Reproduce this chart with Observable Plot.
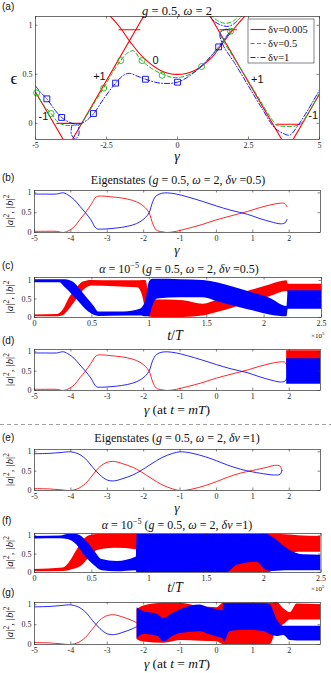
<!DOCTYPE html>
<html><head><meta charset="utf-8">
<script src="https://cdn.jsdelivr.net/npm/d3@7"></script>
<script src="https://cdn.jsdelivr.net/npm/@observablehq/plot@0.6"></script>
<style>
body{margin:0;background:#fff;}
#root{position:relative;width:331px;height:673px;overflow:hidden;background:#fff;}
text{white-space:pre;}
</style></head><body><div id="root"></div><script>
// ---------- (a) quasienergy spectrum ----------
const aXTicks = [-5, -2.5, 0, 2.5, 5];
const aYTicks = [0, 0.5, 1];
const redA1 = [[-5.0, 0.32], [-3.55, -0.4]];
const redA2 = [[-4.05, -0.34], [-0.8, 1.29]];
const redA3 = [[-2.45,1.12],[-2.0,0.97],[-1.69,0.84],[-1.2,0.67],[-0.6,0.54],[0,0.5],[0.6,0.54],[1.2,0.67],[1.62,0.83],[2.0,0.97],[2.45,1.12]];
const redA4 = [[0.8, 1.27], [4.1, -0.38]];
const redA5 = [[3.6, -0.4], [5.0, 0.3]];
const redA6 = [[-4.25, 0.0], [-3.42, 0.0]];
const redA7 = [[-2.06, 0.955], [-1.33, 0.955]];
const redA8 = [[1.49, 0.955], [2.08, 0.955]];
const redA9 = [[3.49, -0.01], [4.31, -0.01]];
const greenA = [[-5.0,0.31],[-4.7,0.18],[-4.45,0.1],[-4.2,0.01],[-3.95,-0.02],[-3.7,-0.02],[-3.42,-0.01],[-3.2,0.08],[-2.9,0.22],[-2.6,0.36],[-2.3,0.51],[-2.0,0.64],[-1.75,0.72],[-1.55,0.74],[-1.35,0.67],[-1.1,0.6],[-0.8,0.54],[-0.5,0.5],[-0.2,0.47],[0.1,0.47],[0.5,0.51],[0.85,0.58],[1.2,0.69],[1.5,0.79],[1.7,0.87],[1.87,0.94],[1.97,0.96],[1.7,0.955],[1.5,0.93],[1.62,0.84],[2.0,0.66],[2.5,0.43],[3.0,0.19],[3.3,0.05],[3.5,-0.02],[3.8,-0.03],[4.1,-0.03],[4.35,0.0],[4.6,0.1],[5.0,0.31]];
const greenArc = [[1.15,1.11],[1.4,1.05],[1.7,1.02],[2.0,1.05],[2.2,1.11]];
const blueA = [[-5.0,0.38],[-4.8,0.31],[-4.6,0.25],[-4.3,0.13],[-4.08,0.06],[-3.8,0.01],[-3.5,-0.01],[-3.2,0.03],[-2.95,0.1],[-2.6,0.25],[-2.18,0.41],[-1.9,0.49],[-1.7,0.51],[-1.4,0.48],[-1.13,0.45],[-0.6,0.41],[0,0.42],[0.5,0.5],[1.0,0.63],[1.45,0.78],[1.7,0.88],[1.85,0.94],[1.7,0.96],[1.5,0.92],[1.6,0.8],[2.0,0.62],[2.5,0.38],[3.0,0.14],[3.4,-0.04],[3.7,-0.1],[3.95,-0.12],[4.2,-0.04],[4.6,0.14],[5.0,0.34]];
const blueLoop = [[-3.72,-0.02],[-3.74,-0.11],[-3.6,-0.16],[-3.47,-0.11],[-3.5,-0.02]];
const blueArc = [[1.08,1.11],[1.3,1.04],[1.55,1.0],[1.8,0.99],[2.05,1.03],[2.3,1.11]];
const greenMarks = [[-4.96,0.31],[-4.45,0.1],[-2.6,0.36],[-2.0,0.64],[-1.25,0.64],[-0.54,0.49],[0.85,0.58],[1.87,0.94]];
const blueMarks = [[-4.6,0.25],[-4.08,0.06],[-2.96,0.1],[-2.18,0.41],[-1.13,0.45],[0.0,0.42],[1.45,0.78]];
const aLabels = [["0",-0.77,0.64],["+1",-2.75,0.48],["+1",2.81,0.45],["-1",-4.72,0.07],["-1",4.78,0.08]];
const legendNames = ["δv=0.005", "δv=0.5", "δv=1"];

// ---------- (b),(d) eigenstates dv=0.5 ----------
const gTicks = [-5, -4, -3, -2, -1, 0, 1, 2];
const pTicks = [0, 0.5, 1];
const tTicks = [0, 0.5, 1, 1.5, 2, 2.5];
const bGamma = [-5, -4.7, -4.4, -4.2, -4.05, -3.9, -3.75, -3.6, -3.45, -3.3, -3.15, -2.9, -2.6, -2.3, -2.1, -1.95, -1.85, -1.75, -1.65, -1.5, -1.35, -1.1, -0.8, -0.4, 0, 0.4, 0.85, 1.2, 1.5, 1.75, 1.88, 1.94];
const bBlue  = [0.97, 0.97, 0.97, 1.0, 0.93, 0.82, 0.66, 0.5, 0.32, 0.1, 0.085, 0.1, 0.13, 0.19, 0.27, 0.38, 0.5, 0.78, 0.93, 0.99, 1.0, 0.97, 0.9, 0.79, 0.67, 0.56, 0.46, 0.35, 0.27, 0.22, 0.24, 0.33];
const bRed   = [0.03, 0.03, 0.03, 0.0, 0.05, 0.15, 0.33, 0.5, 0.7, 0.9, 0.92, 0.9, 0.87, 0.81, 0.73, 0.62, 0.5, 0.22, 0.06, 0.02, 0.0, 0.03, 0.1, 0.2, 0.32, 0.42, 0.53, 0.63, 0.7, 0.74, 0.73, 0.65];
const dRedBand  = [[1.93, 0.55, 1.03], [2.86, 0.55, 1.03]];
const dBlueBand = [[1.93, 0.16, 0.82], [2.86, 0.16, 0.82]];

// ---------- (c) time evolution dv=0.5 : [t/1e5, low, high] ----------
const cRed = [[0,0.02,0.07],[0.2,0.02,0.08],[0.25,0.05,0.2],[0.3,0.2,0.5],[0.36,0.45,0.75],[0.42,0.7,0.95],[0.5,0.85,1.0],[0.7,0.83,0.99],[0.9,0.8,0.99],[0.94,0.6,1.0],[0.97,0.2,1.0],[1.0,0.02,0.6],[1.03,0.0,0.47],[1.15,0.0,0.47],[1.3,0.0,0.45],[1.47,0.04,0.36],[1.6,0.14,0.47],[1.75,0.28,0.6],[1.9,0.42,0.74],[2.05,0.56,0.88],[2.2,0.7,0.99],[2.21,0.67,0.9],[2.5,0.67,0.9]];
const cBlue = [[0,0.94,1.02],[0.22,0.94,1.02],[0.27,0.8,1.02],[0.34,0.58,0.95],[0.4,0.38,0.75],[0.46,0.18,0.52],[0.52,0.06,0.3],[0.56,0.03,0.15],[0.78,0.04,0.15],[0.92,0.04,0.22],[0.97,0.02,0.45],[1.0,0.02,0.95],[1.03,0.3,1.03],[1.07,0.5,1.03],[1.27,0.53,1.02],[1.47,0.53,1.0],[1.6,0.42,0.93],[1.75,0.3,0.8],[1.9,0.18,0.66],[2.05,0.07,0.52],[2.2,0.02,0.3],[2.21,0.22,0.72],[2.5,0.22,0.72]];

// ---------- (e),(g) eigenstates dv=1 ----------
const eGamma = [-5, -4.6, -4.3, -4.0, -3.8, -3.6, -3.4, -3.2, -3.0, -2.8, -2.6, -2.3, -2.1, -1.8, -1.5, -1.2, -1.0, -0.7, -0.3, 0, 0.3, 0.66, 1.0, 1.39, 1.6, 1.75, 1.8];
const eBlue  = [0.95, 0.96, 0.98, 1.0, 0.95, 0.82, 0.6, 0.4, 0.27, 0.25, 0.3, 0.4, 0.5, 0.68, 0.85, 0.96, 1.0, 0.97, 0.87, 0.77, 0.66, 0.55, 0.48, 0.42, 0.4, 0.42, 0.52];
const eRed   = [0.05, 0.04, 0.02, 0.0, 0.05, 0.18, 0.4, 0.62, 0.73, 0.75, 0.7, 0.6, 0.5, 0.32, 0.15, 0.04, 0.0, 0.03, 0.13, 0.23, 0.34, 0.45, 0.52, 0.6, 0.65, 0.63, 0.52];

// ---------- (f) time evolution dv=1 ----------
const fRed = [[0,0.02,0.08],[0.25,0.03,0.12],[0.3,0.05,0.25],[0.36,0.1,0.55],[0.42,0.2,0.85],[0.48,0.4,1.0],[0.55,0.6,1.03],[0.7,0.66,1.03],[0.889,0.62,1.03],[0.895,0.0,1.03],[2.05,0.0,1.03],[2.15,0.3,1.03],[2.3,0.55,1.0],[2.5,0.55,0.98]];
const fBlue = [[0,0.91,0.98],[0.23,0.92,0.99],[0.29,0.9,1.03],[0.37,0.75,1.03],[0.44,0.45,0.9],[0.52,0.2,0.6],[0.59,0.05,0.35],[0.72,0.02,0.3],[0.889,0.05,0.42],[0.895,0.0,1.03],[1.68,0.0,1.03],[1.77,0.2,1.03],[1.94,0.28,1.03],[2.03,0.05,1.03],[2.08,0.03,0.95],[2.23,0.05,0.6],[2.35,0.05,0.48],[2.5,0.05,0.47]];

// ---------- (g) stroboscopic dv=1 ----------
const gRed = [[-2.18,0.12,0.88],[-2.0,0.06,0.97],[-1.45,0.03,1.04],[-0.99,0.1,1.04],[-0.44,0.08,0.95],[0.02,0.07,0.93],[0.19,0.0,1.04],[1.48,0.0,1.04],[1.67,0.4,1.06],[1.85,0.5,0.9],[2.03,0.62,0.8],[2.22,0.62,1.02],[2.88,0.62,1.0]];
const gBlue = [[-2.18,0.14,0.93],[-2.0,0.25,0.83],[-1.6,0.2,0.75],[-1.45,0.06,0.65],[-1.2,0.2,0.78],[-0.99,0.28,0.88],[-0.44,0.32,1.0],[-0.2,0.25,0.92],[0.02,0.19,0.88],[0.18,0.15,0.85],[0.2,0.05,1.03],[0.38,0.33,1.03],[0.84,0.36,1.03],[1.3,0.33,1.03],[1.48,0.25,1.0],[1.67,0.2,0.62],[1.85,0.23,0.46],[2.03,0.1,0.46],[2.22,0.09,0.46],[2.88,0.09,0.46]];

// =================================================================
const W = 331;
const SERIF = "'Liberation Serif','Times New Roman',serif";
const SANS = "'Liberation Sans',Arial,sans-serif";
const RED = "#ff0000", BLUE = "#0000ff", GREEN = "#1fb51f";
const root = document.getElementById("root");

function panel(cfg) {
  const mt = 6, mb = 16;
  const fh = cfg.bottom - cfg.top;
  const [y0, y1] = cfg.yDomain, [x0, x1] = cfg.xDomain;
  const dy = (y1 - y0) * 2.5 / fh, dx = (x1 - x0) * 2.5 / (cfg.right - cfg.left);
  const ts = {stroke: "#333", strokeWidth: 0.6};
  const svg = Plot.plot({
    width: W, height: fh + mt + mb,
    marginTop: mt, marginBottom: mb, marginLeft: cfg.left, marginRight: W - cfg.right,
    x: {domain: cfg.xDomain, ticks: cfg.xTicks, tickSize: 0, tickPadding: 3, tickFormat: d => String(d), label: null},
    y: {domain: cfg.yDomain, ticks: cfg.yTicks, tickSize: 0, tickPadding: 3, tickFormat: d => String(d), label: null},
    style: {fontFamily: SERIF, fontSize: "8px", color: "#262626", background: "transparent", overflow: "visible"},
    marks: [
      ...cfg.marks,
      Plot.ruleX(cfg.xTicks, {x: d => d, y1: y0, y2: y0 + dy, ...ts}),
      Plot.ruleX(cfg.xTicks, {x: d => d, y1: y1 - dy, y2: y1, ...ts}),
      Plot.ruleY(cfg.yTicks, {y: d => d, x1: x0, x2: x0 + dx, ...ts}),
      Plot.ruleY(cfg.yTicks, {y: d => d, x1: x1 - dx, x2: x1, ...ts}),
      Plot.frame({stroke: "#333", strokeWidth: 0.7})
    ]
  });
  svg.style.position = "absolute";
  svg.style.left = "0px";
  svg.style.top = (cfg.top - mt) + "px";
  root.appendChild(svg);
}
const P = d => d[0], Q = d => d[1];
const line = (data, stroke, extra = {}) => Plot.line(data, {x: P, y: Q, stroke, strokeWidth: 0.85, curve: "catmull-rom", clip: true, ...extra});
const band = (data, fill) => Plot.areaY(data, {x: P, y1: d => d[1], y2: d => d[2], fill, curve: "monotone-x", clip: true});
const pairs = (xs, ys) => xs.map((x, i) => [x, ys[i]]);

// (a)
const redSegs = [redA1, redA2, redA3, redA4, redA5, redA6, redA7, redA8, redA9];
panel({
  top: 16, bottom: 139, left: 35, right: 319, xDomain: [-5, 5], yDomain: [-0.165, 1.09], xTicks: aXTicks, yTicks: aYTicks,
  marks: [
    ...redSegs.map(s => line(s, RED, {strokeWidth: 1.1})),
    line(greenA, GREEN, {strokeDasharray: "4,2.5", strokeWidth: 1}),
    line(greenArc, GREEN, {strokeDasharray: "4,2.5", strokeWidth: 1}),
    Plot.dot(greenMarks, {x: P, y: Q, r: 3, stroke: GREEN, fill: "none", strokeWidth: 0.9}),
    line(blueA, BLUE, {strokeDasharray: "5,2,1,2", strokeWidth: 0.9}),
    line(blueLoop, BLUE, {strokeDasharray: "5,2,1,2", strokeWidth: 0.9}),
    line(blueArc, BLUE, {strokeDasharray: "5,2,1,2", strokeWidth: 0.9}),
    Plot.dot(blueMarks, {x: P, y: Q, r: 3.3, symbol: "square", stroke: BLUE, fill: "none", strokeWidth: 0.9}),
    Plot.text(aLabels, {x: d => d[1], y: d => d[2], text: d => d[0], fontFamily: SANS, fontSize: 11, fill: "#111"})
  ]
});
// (b)
panel({
  top: 190, bottom: 232, left: 34, right: 320, xDomain: [-5, 2.86], yDomain: [0, 1.06], xTicks: gTicks, yTicks: pTicks,
  marks: [line(pairs(bGamma, bRed), RED), line(pairs(bGamma, bBlue), BLUE)]
});
// (c)
panel({
  top: 277, bottom: 317, left: 34, right: 321, xDomain: [0, 2.5], yDomain: [0, 1.08], xTicks: tTicks, yTicks: pTicks,
  marks: [band(cRed, RED), band(cBlue, BLUE)]
});
// (d)
panel({
  top: 349, bottom: 390, left: 34, right: 320, xDomain: [-5, 2.86], yDomain: [0, 1.06], xTicks: gTicks, yTicks: pTicks,
  marks: [line(pairs(bGamma, bRed), RED), line(pairs(bGamma, bBlue), BLUE), band(dRedBand, RED), band(dBlueBand, BLUE)]
});
// (e)
panel({
  top: 449, bottom: 490, left: 34, right: 320, xDomain: [-5, 2.86], yDomain: [0, 1.06], xTicks: gTicks, yTicks: pTicks,
  marks: [line(pairs(eGamma, eRed), RED), line(pairs(eGamma, eBlue), BLUE)]
});
// (f)
panel({
  top: 533, bottom: 572, left: 34, right: 320.5, xDomain: [0, 2.5], yDomain: [0, 1.06], xTicks: tTicks, yTicks: pTicks,
  marks: [band(fRed, RED), band(fBlue, BLUE)]
});
// (g)
panel({
  top: 602, bottom: 644, left: 34, right: 320, xDomain: [-5, 2.86], yDomain: [0, 1.06], xTicks: gTicks, yTicks: pTicks,
  marks: [
    line(pairs(eGamma, eRed).filter(d => d[0] <= -2.1), RED),
    line(pairs(eGamma, eBlue).filter(d => d[0] <= -2.1), BLUE),
    band(gRed, RED), band(gBlue, BLUE)
  ]
});

// ---------- overlay texts ----------
const ov = d3.select(root).append("svg").attr("width", W).attr("height", 673)
  .style("position", "absolute").style("left", "0px").style("top", "0px");
function rich(x, y, parts, {size = 12, anchor = "middle", family = SERIF, rotate = null} = {}) {
  const t = ov.append("text").attr("x", x).attr("y", y).attr("text-anchor", anchor)
    .attr("font-family", family).attr("font-size", size).attr("fill", "#111");
  if (rotate != null) t.attr("transform", `rotate(${rotate},${x},${y})`);
  let shift = 0;
  for (const p of parts) {
    const [str, st] = Array.isArray(p) ? p : [p, ""];
    const s = t.append("tspan").text(str);
    if (st.includes("i")) s.attr("font-style", "italic");
    if (st.includes("s")) { s.attr("font-size", size * 0.68).attr("dy", -size * 0.4); shift = size * 0.4; }
    else if (shift) { s.attr("dy", shift); shift = 0; }
  }
  return t;
}
const I = s => [s, "i"], S = s => [s, "s"];
// panel letters
[["(a)", 10], ["(b)", 181], ["(c)", 269], ["(d)", 344], ["(e)", 441], ["(f)", 524], ["(g)", 596]]
  .forEach(([s, y]) => rich(2, y, [s], {size: 10, anchor: "start", family: SANS}));
// titles
rich(177, 15, [I("g"), " = 0.5, ", I("ω"), " = 2"], {size: 12.5});
rich(178, 184, ["Eigenstates (", I("g"), " = 0.5, ", I("ω"), " = 2, ", I("δv"), " =0.5)"], {size: 12});
rich(179, 273, [I("α"), " = 10", S("−5"), " (", I("g"), " = 0.5, ", I("ω"), " = 2, ", I("δv"), " =0.5)"], {size: 12});
rich(177, 442, ["Eigenstates (", I("g"), " = 0.5, ", I("ω"), " = 2, ", I("δv"), " =1)"], {size: 12});
rich(177, 529, [I("α"), " = 10", S("−5"), " (", I("g"), " = 0.5, ", I("ω"), " = 2, ", I("δv"), " =1)"], {size: 12});
// y labels
rich(14, 84, ["ϵ"], {size: 17});
const ylab = ["|", I("a"), "|", S("2"), ", |", I("b"), "|", S("2")];
[[190, 232], [277, 317], [349, 390], [449, 490], [533, 572], [602, 644]]
  .forEach(([a, b]) => rich(13, (a + b) / 2, ylab, {size: 11, rotate: -90}));
// x labels
rich(177, 161, [I("γ")], {size: 14});
rich(177, 254, [I("γ")], {size: 13.5});
rich(175, 340, [I("t"), "/", I("T")], {size: 14});
rich(177, 414, [I("γ"), " (at ", I("t"), " = ", I("mT"), ")"], {size: 13.5});
rich(177, 512, [I("γ")], {size: 13.5});
rich(175, 592, [I("t"), "/", I("T")], {size: 14});
rich(177, 668, [I("γ"), " (at ", I("t"), " = ", I("mT"), ")"], {size: 13.5});
rich(311, 338, ["×10", S("5")], {size: 7, anchor: "start"});
rich(311, 591, ["×10", S("5")], {size: 7, anchor: "start"});
// legend of (a)
ov.append("rect").attr("x", 248).attr("y", 19).attr("width", 66).attr("height", 44)
  .attr("fill", "#fff").attr("stroke", "#333").attr("stroke-width", 0.6);
const legStyles = [[RED, null, 1.1], [GREEN, "4,2.5", 1], [BLUE, "5,2,1,2", 0.9]];
legendNames.forEach((name, i) => {
  const y = 29.5 + i * 14;
  const l = ov.append("line").attr("x1", 250.5).attr("x2", 266).attr("y1", y).attr("y2", y)
    .attr("stroke", legStyles[i][0]).attr("stroke-width", legStyles[i][2]);
  if (legStyles[i][1]) l.attr("stroke-dasharray", legStyles[i][1]);
  rich(268, y + 3.5, [name], {size: 10.5, anchor: "start"});
});
// separator
ov.append("line").attr("x1", 0).attr("x2", W).attr("y1", 424.5).attr("y2", 424.5)
  .attr("stroke", "#888").attr("stroke-width", 0.8).attr("stroke-dasharray", "4,3");
</script></body></html>
